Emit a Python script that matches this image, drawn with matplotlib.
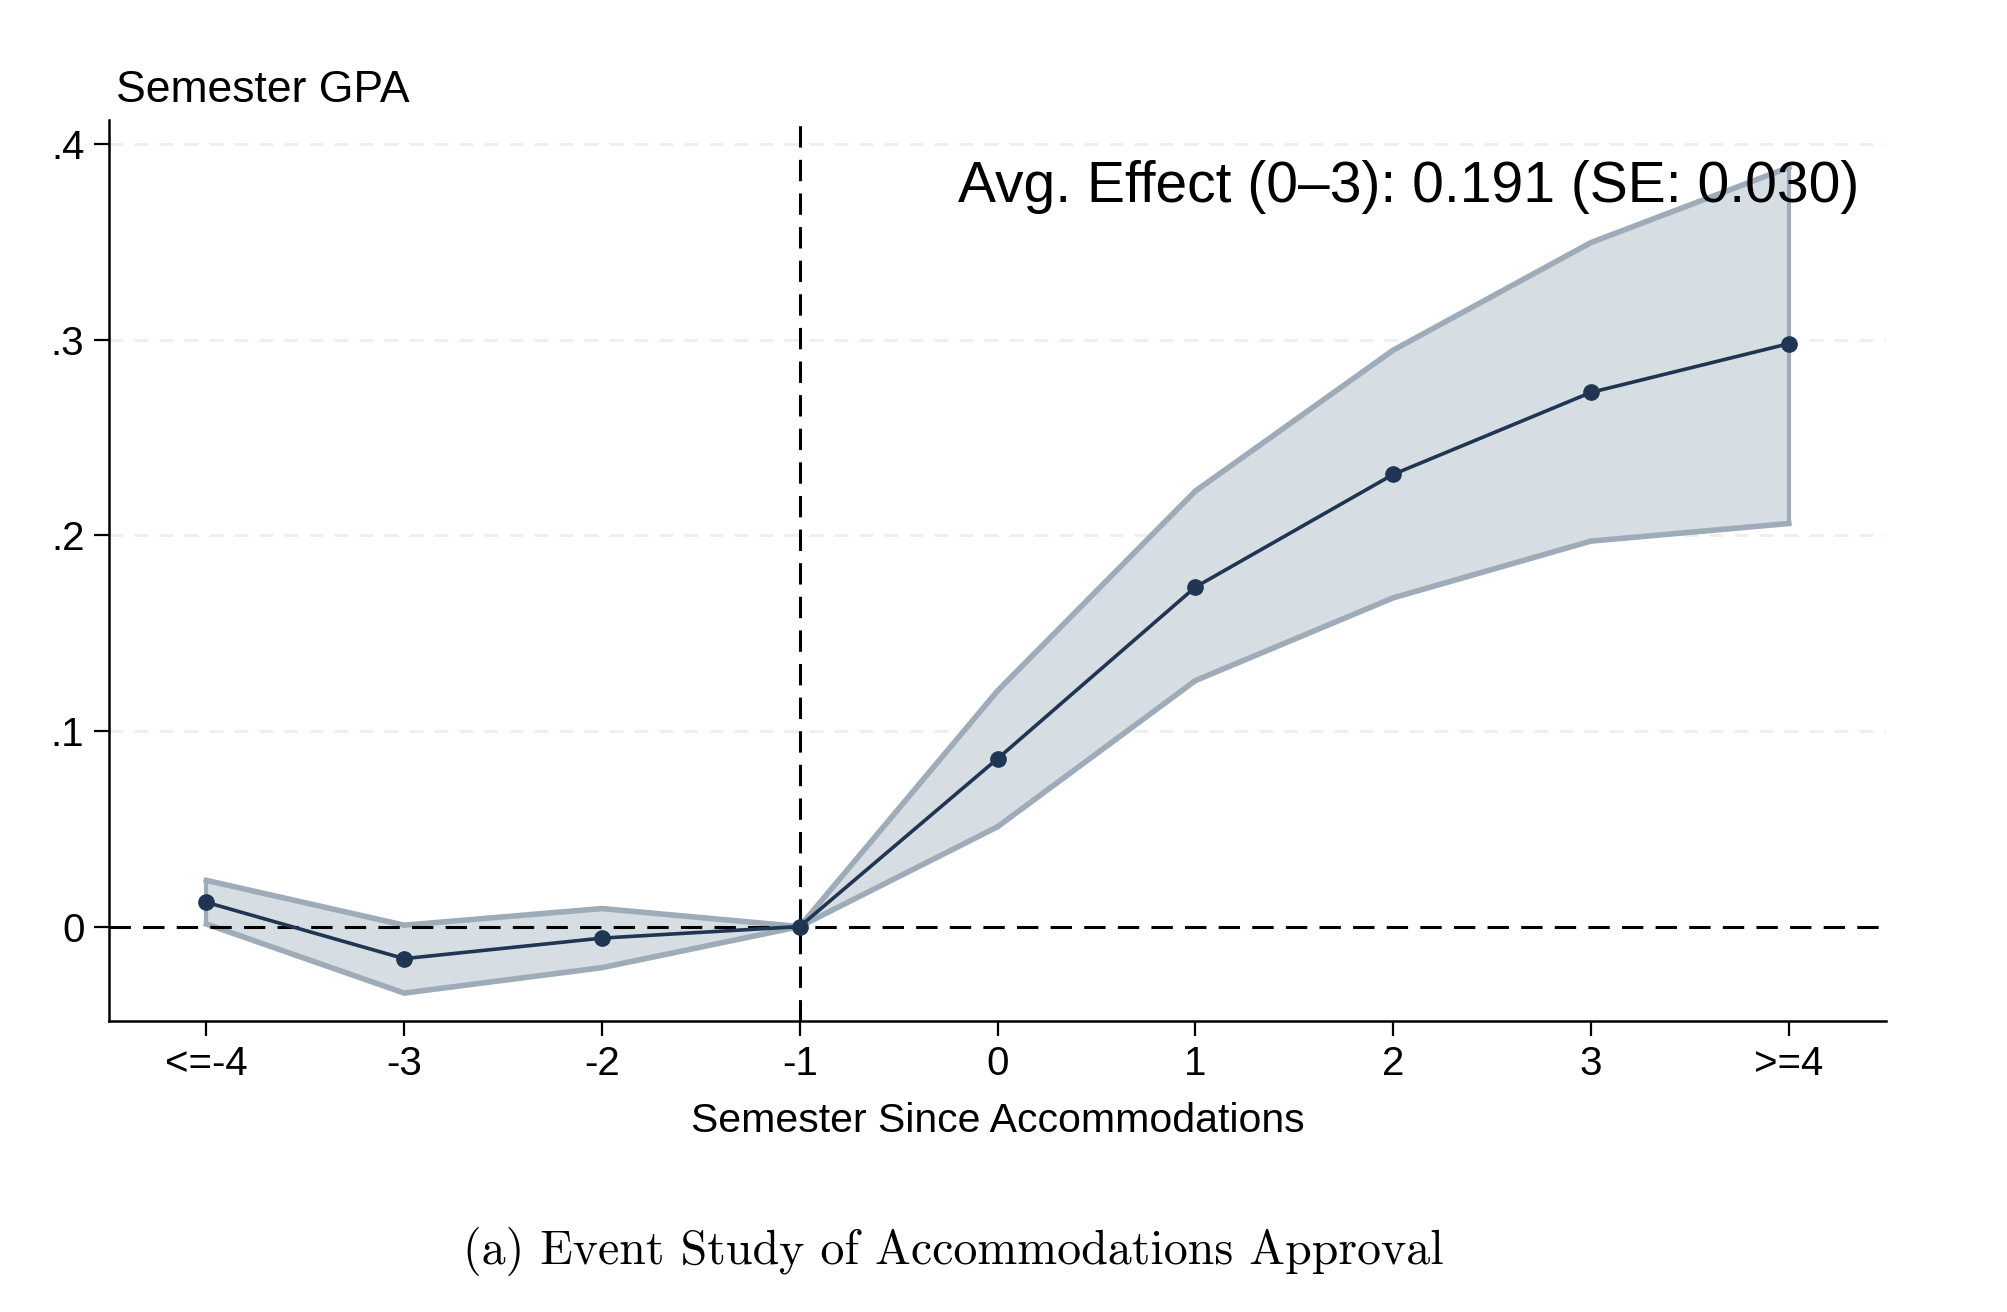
import matplotlib
matplotlib.use("Agg")
import matplotlib.pyplot as plt
import numpy as np

# event-study estimates
periods = [-4, -3, -2, -1, 0, 1, 2, 3, 4]
tick_labels = ["<=-4", "-3", "-2", "-1", "0", "1", "2", "3", ">=4"]
coef = [0.0124, -0.0164, -0.0059, 0.0, 0.0858, 0.1735, 0.2311, 0.2730, 0.2979]
ci_hi = [0.0236, 0.0007, 0.0092, 0.0, 0.1205, 0.2226, 0.2946, 0.3496, 0.3880]
ci_lo = [0.0013, -0.0340, -0.0210, 0.0, 0.0510, 0.1257, 0.1680, 0.1970, 0.2060]
y_ticks = [0, 0.1, 0.2, 0.3, 0.4]
y_tick_labels = ["0", ".1", ".2", ".3", ".4"]

plt.rcParams["font.family"] = ["Liberation Sans", "DejaVu Sans"]

fig = plt.figure(figsize=(20.08, 13.12), dpi=100)
ax = fig.add_axes([0.0545, 0.2216, 0.8846, 0.6872])

for y in y_ticks[1:]:
    ax.axhline(y, color="#eeeeee", lw=2, ls=(0, (5, 4)), zorder=0)

ax.fill_between(periods, ci_lo, ci_hi, facecolor="#d6dde3", edgecolor="none", zorder=1)
ax.plot(periods, ci_hi, color="#9eabb8", lw=4, zorder=2, solid_joinstyle="miter")
ax.plot(periods, ci_lo, color="#9eabb8", lw=4, zorder=2, solid_joinstyle="miter")
ax.plot([periods[-1], periods[-1]], [ci_lo[-1], ci_hi[-1]], color="#9eabb8", lw=3, zorder=2)
ax.plot([periods[0], periods[0]], [ci_lo[0], ci_hi[0]], color="#9eabb8", lw=3, zorder=2)

ax.axhline(0, color="black", lw=2.2, ls=(0, (7, 4)), zorder=3)
ax.axvline(-1, color="black", lw=2.2, ls=(0, (7, 4)), zorder=3)

ax.plot(periods, coef, color="#1f3552", lw=2.6, marker="o", ms=11, zorder=4)

ax.set_xlim(-4.49, 4.49)
ax.set_ylim(-0.0484, 0.4124)
ax.set_xticks(periods)
ax.set_xticklabels(tick_labels)
ax.set_yticks(y_ticks)
ax.set_yticklabels(y_tick_labels)
ax.tick_params(axis="both", labelsize=29, length=11, width=1.6, direction="out", pad=7)
ax.tick_params(axis="x", pad=6)

for s in ["top", "right"]:
    ax.spines[s].set_visible(False)
for s in ["left", "bottom"]:
    ax.spines[s].set_linewidth(1.8)

ax.set_xlabel("Semester Since Accommodations", fontsize=29.5, labelpad=14)
fig.text(0.058, 0.931, "Semester GPA", fontsize=32, ha="left", va="center")

ax.text(0.985, 0.955, "Avg. Effect (0\u20133): 0.191 (SE: 0.030)", transform=ax.transAxes,
        fontsize=41, ha="right", va="top")

fig.text(0.475, 0.046, "(a) Event Study of Accommodations Approval", fontsize=34.5,
         family="cmr10", ha="center", va="center")

fig.savefig("out.png", dpi=100)
